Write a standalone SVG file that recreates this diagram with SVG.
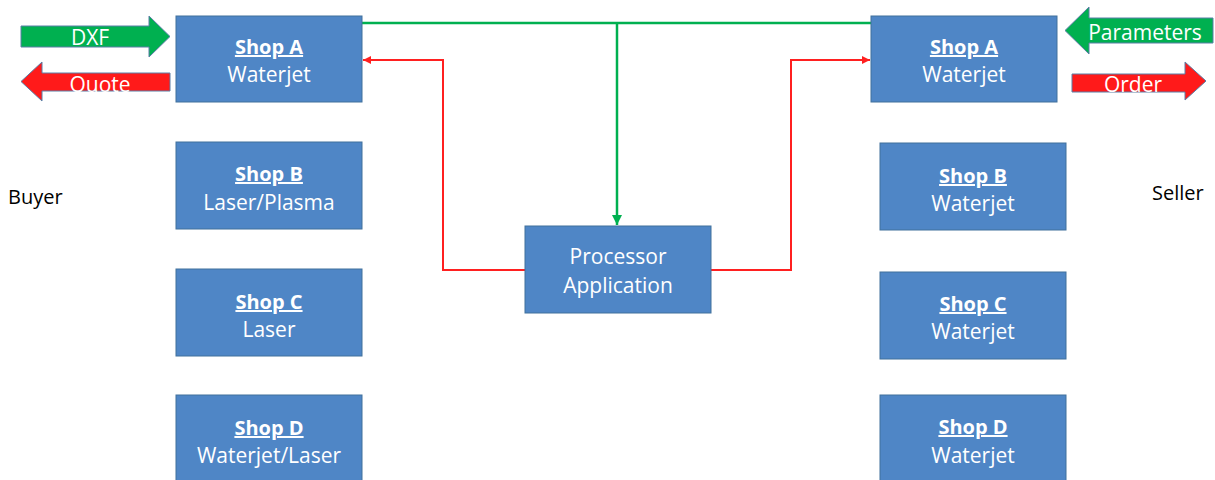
<svg xmlns="http://www.w3.org/2000/svg" width="1215" height="480" viewBox="0 0 1215 480">
<style>
.box{fill:#4F86C6;stroke:#41719C;stroke-width:1}
.t{font-family:"Open Sans","Liberation Sans",sans-serif;font-size:21px;fill:#fff;text-anchor:middle}
.h{font-weight:bold;text-decoration:underline;font-size:20px}
.lbl{font-family:"Open Sans","Liberation Sans",sans-serif;font-size:20px;fill:#000}
.ga{fill:#00B050;stroke:#5B7FA6;stroke-width:1}
.ra{fill:#FF1A1A;stroke:#5B7FA6;stroke-width:1}
.g{fill:none;stroke:#00B050;stroke-width:2.5}
.r{fill:none;stroke:#FF2020;stroke-width:2}
</style>
<defs>
<marker id="mg" markerUnits="userSpaceOnUse" markerWidth="12" markerHeight="12" refX="10" refY="6" orient="auto"><path d="M0,1 L10,6 L0,11 z" fill="#00B050"/></marker>
<marker id="mr" markerUnits="userSpaceOnUse" markerWidth="10" markerHeight="10" refX="8" refY="5" orient="auto"><path d="M0,1 L8,5 L0,9 z" fill="#FF2020"/></marker>
</defs>
<rect width="1215" height="480" fill="#fff"/>
<g id="connectors">
<path class="g" d="M362,23 H871"/>
<path class="g" d="M617,23 V225" marker-end="url(#mg)"/>
<path class="r" d="M525,270 H443 V60 H363" marker-end="url(#mr)"/>
<path class="r" d="M711,270 H791 V60 H870" marker-end="url(#mr)"/>
</g>
<g id="arrow-dxf"><polygon class="ga" points="21,26 149,26 149,16 170,36.5 149,57 149,47 21,47"/><text class="t" x="90" y="45">DXF</text></g>
<g id="arrow-quote"><polygon class="ra" points="170,73 42,73 42,62 21,81.5 42,101 42,91 170,91"/><text class="t" x="100" y="92">Quote</text></g>
<g id="arrow-parameters"><polygon class="ga" points="1213,18 1089,18 1089,7 1065,30.5 1089,54 1089,43 1213,43"/><text class="t" x="1145" y="40">Parameters</text></g>
<g id="arrow-order"><polygon class="ra" points="1072,74 1185,74 1185,62 1206,81 1185,100 1185,92 1072,92"/><text class="t" x="1133" y="92">Order</text></g>
<g id="buyer"><text class="lbl" x="8" y="204">Buyer</text></g>
<g id="seller"><text class="lbl" x="1152" y="200">Seller</text></g>
<g id="buyer-shop-a"><rect class="box" x="176" y="16" width="186" height="86"/><text class="t h" x="269" y="54">Shop A</text><text class="t" x="269" y="82">Waterjet</text></g>
<g id="buyer-shop-b"><rect class="box" x="176" y="142" width="186" height="87"/><text class="t h" x="269" y="181">Shop B</text><text class="t" x="269" y="210">Laser/Plasma</text></g>
<g id="buyer-shop-c"><rect class="box" x="176" y="269" width="186" height="87"/><text class="t h" x="269" y="309">Shop C</text><text class="t" x="269" y="337">Laser</text></g>
<g id="buyer-shop-d"><rect class="box" x="176" y="395" width="186" height="90"/><text class="t h" x="269" y="435">Shop D</text><text class="t" x="269" y="463">Waterjet/Laser</text></g>
<g id="processor"><rect class="box" x="525" y="226" width="186" height="87"/><text class="t" x="618" y="264">Processor</text><text class="t" x="618" y="293">Application</text></g>
<g id="seller-shop-a"><rect class="box" x="871" y="16" width="186" height="86"/><text class="t h" x="964" y="54">Shop A</text><text class="t" x="964" y="82">Waterjet</text></g>
<g id="seller-shop-b"><rect class="box" x="880" y="143" width="186" height="87"/><text class="t h" x="973" y="183">Shop B</text><text class="t" x="973" y="211">Waterjet</text></g>
<g id="seller-shop-c"><rect class="box" x="880" y="272" width="186" height="87"/><text class="t h" x="973" y="311">Shop C</text><text class="t" x="973" y="339">Waterjet</text></g>
<g id="seller-shop-d"><rect class="box" x="880" y="395" width="186" height="90"/><text class="t h" x="973" y="434">Shop D</text><text class="t" x="973" y="463">Waterjet</text></g>
</svg>
